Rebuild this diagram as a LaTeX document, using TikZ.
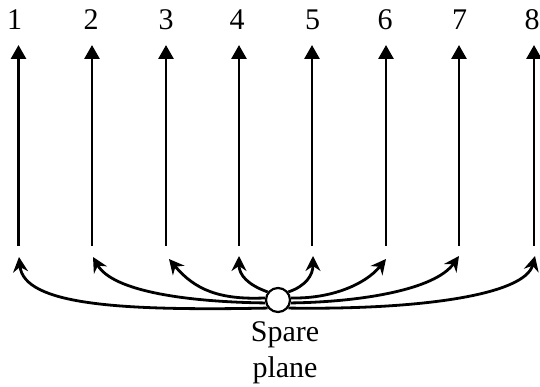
\documentclass[tikz,border=0pt]{standalone}
\usepackage{fontspec}
\setmainfont{Liberation Serif}
\usetikzlibrary{arrows.meta}
\begin{document}
\begin{tikzpicture}[x=1pt,y=1pt,
  vline/.style={line width=2.8pt,-{Triangle[length=14pt,width=15pt]}},
  cline/.style={line width=2.8pt,-{Stealth[length=15pt,width=15pt,inset=5pt]}},
  lbl/.style={anchor=base,inner sep=0pt,font=\fontsize{30}{36}\selectfont},
  spare/.style={circle,draw,line width=2.2pt,fill=white,minimum size=24pt,inner sep=0pt}]
\useasboundingbox (0,0) rectangle (540,387);
% vertical arrows
\foreach \i/\x in {1/18.5,2/92,3/166,4/239,5/312,6/386,7/459,8/534}{
  \coordinate (b\i) at (\x,141);
  \coordinate (a\i) at (\x,342);
  \draw[vline] (b\i) -- (a\i);
}
% labels
\foreach \i/\x in {1/14.5,2/91,3/166,4/237,5/312.5,6/385,7/459.5,8/532}{
  \node[lbl] (l\i) at (\x,357) {\i};
}
% tips of the curved arrows
\coordinate (t1) at (19,130);
\coordinate (t2) at (93,130);
\coordinate (t3) at (169,128);
\coordinate (t4) at (239,131);
\coordinate (t5) at (313,131);
\coordinate (t6) at (386,128);
\coordinate (t7) at (459,131);
\coordinate (t8) at (535,131);
% spare plane
\node[spare] (sp) at (278,87) {};
\node[lbl,align=center] (txt) at (285,9) {Spare\\plane};
% curved arrows
\draw[cline] (sp.218) .. controls (120,76) and (24,82) .. (t1);
\draw[cline] (sp.193) .. controls (190,85) and (113,95) .. (t2);
\draw[cline] (sp.171) .. controls (220,87) and (195,97) .. (t3);
\draw[cline] (sp.142) .. controls (248,102) and (239,112) .. (t4);
\draw[cline] (sp.38) .. controls (306,101) and (313,112) .. (t5);
\draw[cline] (sp.9) .. controls (330,88) and (365,102) .. (t6);
\draw[cline] (sp.-13) .. controls (360,85) and (435,97) .. (t7);
\draw[cline] (sp.-38) .. controls (420,77) and (525,92) .. (t8);
\end{tikzpicture}
\end{document}
